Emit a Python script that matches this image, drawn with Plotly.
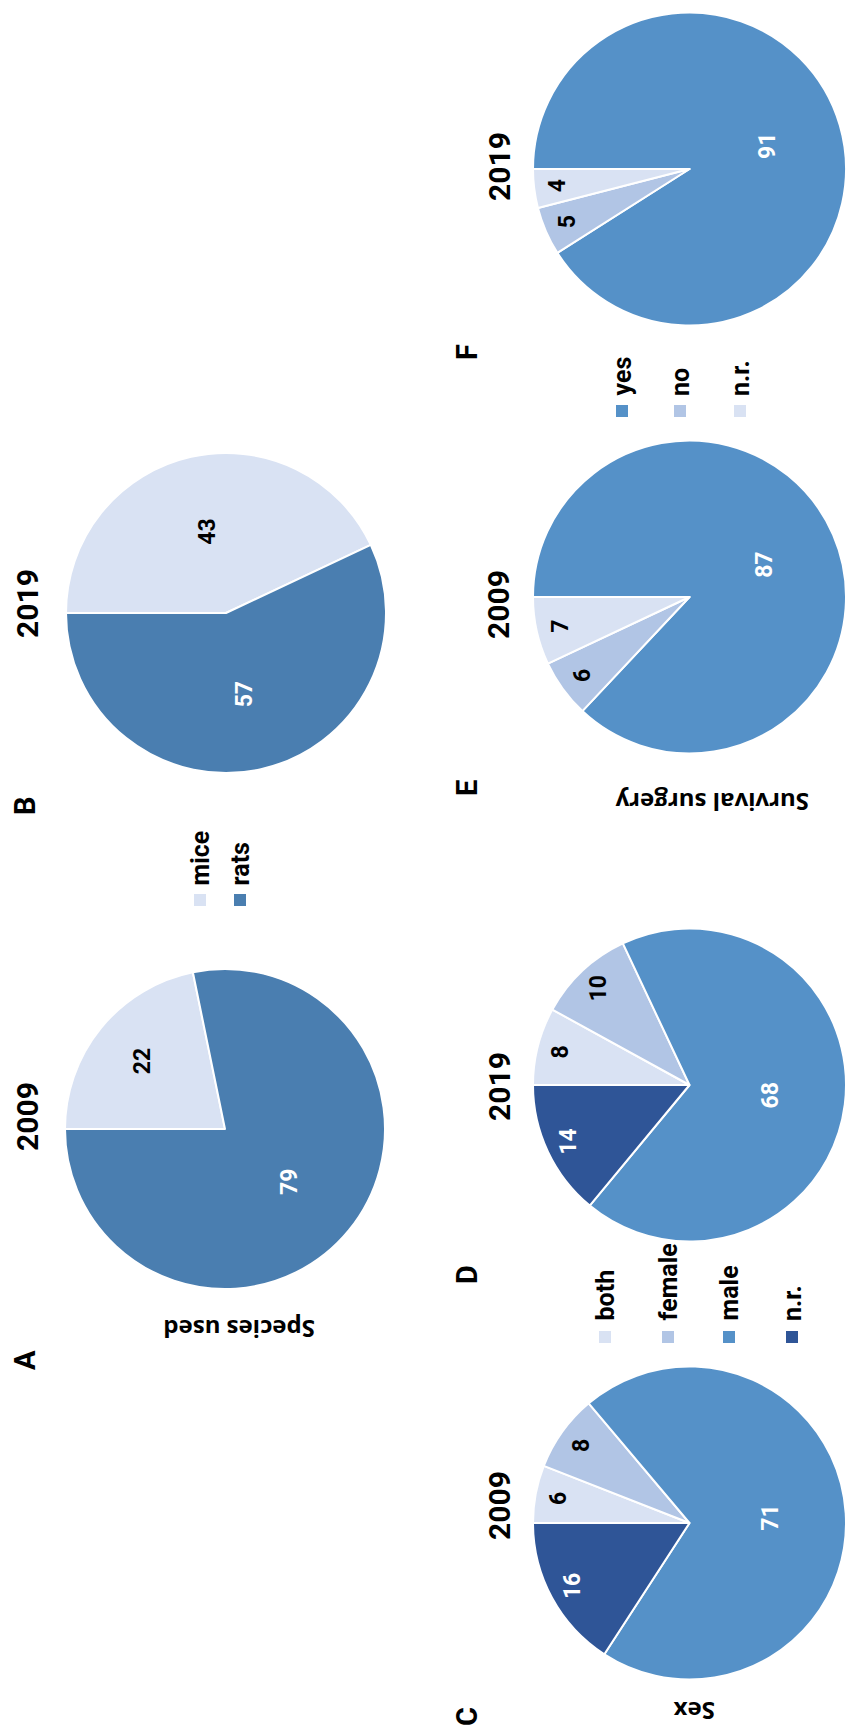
import math
import plotly.graph_objects as go

W, H = 846, 1730

# ---------------- data ----------------
species_labels = ["mice", "rats"]
species_2009 = [22, 79]
species_2019 = [43, 57]

sex_labels = ["both", "female", "male", "n.r."]
sex_2009 = [6, 8, 71, 16]
sex_2019 = [8, 10, 68, 14]

surgery_labels = ["yes", "no", "n.r."]
surgery_2009 = [87, 6, 7]
surgery_2019 = [91, 5, 4]

years = ["2009", "2019"]
panel_letters = ["A", "B", "C", "D", "E", "F"]
group_titles = ["Species used", "Sex", "Survival surgery"]

# ---------------- styles ----------------
species_colors = ["#d9e2f3", "#4a7eb0"]
species_text = ["black", "white"]
sex_colors = ["#d9e2f3", "#b1c5e5", "#5591c8", "#2f5597"]
sex_text = ["black", "black", "white", "white"]
surgery_colors = ["#5591c8", "#b1c5e5", "#d9e2f3"]
surgery_text = ["white", "black", "black"]

NARROW = "Roboto, Liberation Sans Narrow, DejaVu Sans Condensed, sans-serif"
TITLE = "Open Sans, DejaVu Sans, sans-serif"

fig = go.Figure()
annotations = []
shapes = []


def px2paper(px, py):
    return px / W, 1 - py / H


def ann(text, px, py, size, angle=-90, color="black", family=NARROW,
        xanchor="center", yanchor="middle"):
    x, y = px2paper(px, py)
    annotations.append(dict(
        text="<b>%s</b>" % text, x=x, y=y, xref="paper", yref="paper",
        showarrow=False, textangle=angle, xanchor=xanchor, yanchor=yanchor,
        font=dict(size=size, color=color, family=family, weight="bold")))


def add_pie(labels, values, colors, txtcolors, cx, cy, r):
    x0 = (cx - r) / W
    x1 = min((cx + r) / W, 1.0)
    y0 = 1 - (cy + r) / H
    y1 = 1 - (cy - r) / H
    fig.add_trace(go.Pie(
        labels=labels, values=values, sort=False, direction="clockwise",
        rotation=270, textinfo="none", showlegend=False,
        marker=dict(colors=colors, line=dict(color="white", width=2)),
        domain=dict(x=[x0, x1], y=[y0, y1])))
    # effective geometry after domain clipping
    w = (x1 - x0) * W
    reff = min(w, 2 * r) / 2
    cxe = (x0 + x1) / 2 * W
    total = float(sum(values))
    cum = 0.0
    for v, tc in zip(values, txtcolors):
        share = v / total
        mid = 270 + (cum + share / 2) * 360
        cum += share
        if share < 0.2:
            rf = 0.85
        elif share < 0.3:
            rf = 0.67
        else:
            rf = 0.52
        th = math.radians(mid)
        lx = cxe + rf * reff * math.sin(th)
        ly = cy - rf * reff * math.cos(th)
        ann(str(v), lx, ly, 23, color=tc)


def add_legend(labels, colors, xs, sw_y, text_bottom):
    for lab, col, x in zip(labels, colors, xs):
        sx0, sy0 = px2paper(x - 6, sw_y + 6)
        sx1, sy1 = px2paper(x + 6, sw_y - 6)
        shapes.append(dict(type="rect", xref="paper", yref="paper",
                           x0=sx0, x1=sx1, y0=sy0, y1=sy1,
                           fillcolor=col, line=dict(width=0)))
        ann(lab, x, text_bottom, 25, yanchor="bottom")


R = 160
add_pie(species_labels, species_2009, species_colors, species_text, 225, 1129, R)
add_pie(species_labels, species_2019, species_colors, species_text, 226, 613, R)
add_pie(sex_labels, sex_2009, sex_colors, sex_text, 693, 1523, R)
add_pie(sex_labels, sex_2019, sex_colors, sex_text, 693, 1085, R)
add_pie(surgery_labels, surgery_2009, surgery_colors, surgery_text, 693, 597, R)
add_pie(surgery_labels, surgery_2019, surgery_colors, surgery_text, 693, 169, R)

# year labels
ann(years[0], 27, 1116, 30)
ann(years[1], 27, 603, 30)
ann(years[0], 499, 1506, 30)
ann(years[1], 499, 1087, 30)
ann(years[0], 499, 605, 30)
ann(years[1], 499, 167, 30)

# panel letters
ann(panel_letters[0], 25, 1360, 29)
ann(panel_letters[1], 25, 806, 29)
ann(panel_letters[2], 467, 1716, 29)
ann(panel_letters[3], 467, 1274, 29)
ann(panel_letters[4], 467, 788, 29)
ann(panel_letters[5], 467, 352, 29)

# group titles (upside down)
ann(group_titles[0], 239, 1330, 24, angle=180, family=TITLE)
ann(group_titles[1], 695, 1712, 24, angle=180, family=TITLE)
ann(group_titles[2], 712, 803, 24, angle=180, family=TITLE)

# legends
add_legend(species_labels, species_colors, [200, 240], 900, 888)
add_legend(sex_labels, sex_colors, [605, 668, 729, 792], 1337, 1323)
add_legend(surgery_labels, surgery_colors, [622, 680, 740], 411, 398)

fig.update_layout(
    width=W, height=H, margin=dict(l=0, r=0, t=0, b=0),
    paper_bgcolor="white", plot_bgcolor="white",
    annotations=annotations, shapes=shapes, showlegend=False)

fig.write_html("out.html")
